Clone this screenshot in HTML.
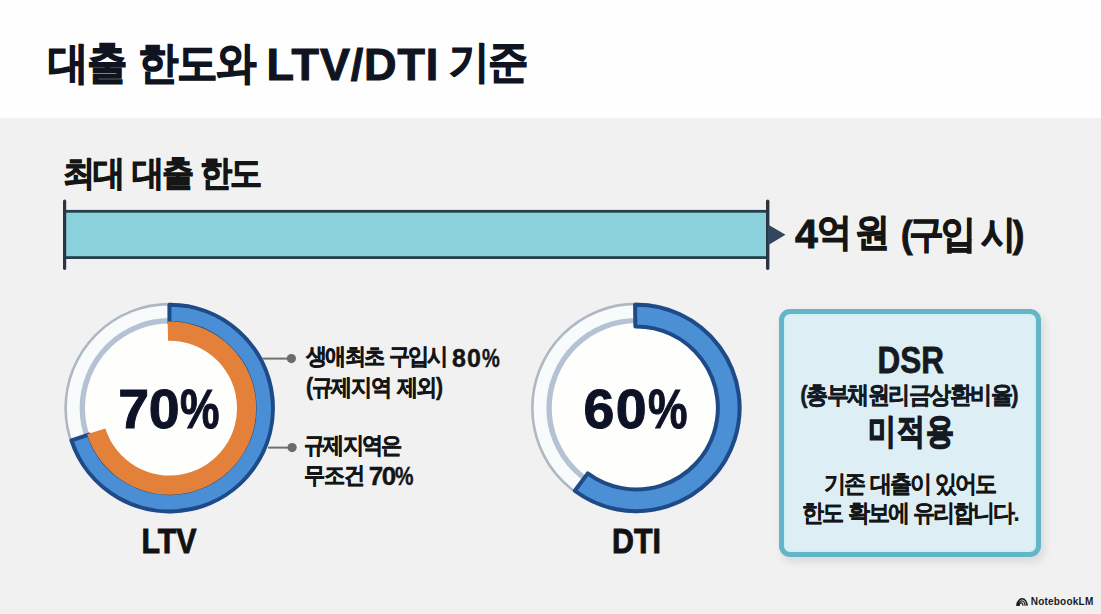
<!DOCTYPE html>
<html lang="ko"><head><meta charset="utf-8"><title>대출 한도와 LTV/DTI 기준</title>
<style>
*{margin:0;padding:0;box-sizing:border-box}
html,body{width:1101px;height:614px;overflow:hidden}
body{position:relative;background:#f1f1f1;font-family:"Liberation Sans",sans-serif;color:#151515}
.hdr{position:absolute;left:0;top:0;width:1101px;height:118px;background:#fefefe}
.t{position:absolute;white-space:nowrap;line-height:1;font-weight:bold}
.c{text-align:center}
.pc{display:inline-block;transform:scaleX(0.8);transform-origin:0 50%;margin-right:-0.18em}
.box{position:absolute;left:778.5px;top:309.4px;width:262.4px;height:247.4px;border:5.2px solid #63b5c7;border-radius:11px;background:#ddeef4;box-shadow:inset 0 0 0 1.5px #c8f2f7,3px 5px 10px rgba(0,0,0,0.10)}
</style></head><body>
<div class="hdr"></div>
<svg width="1101" height="614" viewBox="0 0 1101 614" style="position:absolute;left:0;top:0">
<rect x="64.6" y="211.3" width="703" height="46.3" fill="#8bd1dc" stroke="#24404e" stroke-width="2.8"/>
<line x1="64.6" y1="201.2" x2="64.6" y2="268.3" stroke="#2b3644" stroke-width="3.2" stroke-linecap="round"/>
<line x1="767.7" y1="201.2" x2="767.7" y2="268.3" stroke="#2b3644" stroke-width="3.4" stroke-linecap="round"/>
<path d="M768 224.4 L785.5 234.8 L768 245.2 Z" fill="#34465e"/>
<circle cx="169.6" cy="408.1" r="104.0" fill="#f8fbfc" stroke="#afb8c2" stroke-width="2.6"/>
<circle cx="169.6" cy="408.1" r="87.3" fill="#fefefd" stroke="#b5c2d3" stroke-width="5.4"/>
<path d="M169.42 304.80 A103.3 103.3 0 1 1 71.47 440.36 L88.85 434.65 A85.0 85.0 0 1 0 169.45 323.10 Z" fill="#4a8fd5" stroke="#1e4b88" stroke-width="4" stroke-linejoin="round"/>
<path d="M167.64 321.52 A86.6 86.6 0 1 1 87.05 434.29 L105.35 428.48 A67.4 67.4 0 1 0 168.07 340.72 Z" fill="#e3803a"/>
<circle cx="636.35" cy="407.9" r="104.0" fill="#f8fbfc" stroke="#afb8c2" stroke-width="2.6"/>
<circle cx="636.35" cy="407.9" r="87.3" fill="#fefefd" stroke="#b5c2d3" stroke-width="5.4"/>
<path d="M635.09 304.71 A103.2 103.2 0 1 1 574.82 490.75 L587.76 473.33 A81.5 81.5 0 1 0 635.35 326.41 Z" fill="#4b8fd5" stroke="#1e4b88" stroke-width="4" stroke-linejoin="round"/>
<line x1="262" y1="358.6" x2="291.4" y2="358.6" stroke="#707070" stroke-width="2"/>
<circle cx="291.4" cy="358.6" r="4.6" fill="#6b6b6b"/>
<line x1="268" y1="447.6" x2="292.1" y2="447.6" stroke="#707070" stroke-width="2"/>
<circle cx="292.1" cy="447.6" r="4.6" fill="#6b6b6b"/>
<g fill="none" stroke="#1a1a1a">
<path d="M1017.1 605.8 A5 7 0 0 1 1027.1 605.8" stroke-width="1.5"/>
<path d="M1018.3 605.8 A3.4 5 0 0 1 1025.1 605.8" stroke-width="1.3"/>
<path d="M1019.3 605.8 A1.85 3 0 0 1 1023 605.8" stroke-width="1.2"/>
</g>
<path d="M1016.4 605.9 L1016.8 602.5 L1018.6 600.8 L1019.2 605.9 Z" fill="#1a1a1a"/>
</svg>
<div class="box"></div>
<div class="t" id="t1" style="left:47.7px;top:40.6px;font-size:43.7px;letter-spacing:-1.48px;word-spacing:2px;-webkit-text-stroke:1.15px currentColor;transform:scaleX(0.92);transform-origin:0 0;color:#0f1420">대출 한도와</div>
<div class="t" id="t2" style="left:266.6px;top:42.2px;font-size:45px;letter-spacing:0.83px;-webkit-text-stroke:1px currentColor;color:#0f1420">LTV/DTI</div>
<div class="t" id="t3" style="left:449.2px;top:40.25px;font-size:43.7px;letter-spacing:-1.09px;word-spacing:2px;-webkit-text-stroke:1.15px currentColor;transform:scaleX(0.92);transform-origin:0 0;color:#0f1420">기준</div>
<div class="t" id="sub" style="left:63.2px;top:155.5px;font-size:34.8px;letter-spacing:-2.36px;word-spacing:2px;-webkit-text-stroke:0.95px currentColor;transform:scaleX(0.92);transform-origin:0 0;">최대 대출 한도</div>
<div class="t" id="a0" style="left:795px;top:214px;font-size:41px;-webkit-text-stroke:0.9px currentColor;">4</div>
<div class="t" id="a1" style="left:817.3px;top:212.75px;font-size:38.2px;letter-spacing:-4.4px;word-spacing:2px;-webkit-text-stroke:1px currentColor;transform:scaleX(0.92);transform-origin:0 0;">억 원</div>
<div class="t" id="a2" style="left:901.3px;top:216.4px;font-size:37.7px;letter-spacing:-3.52px;word-spacing:2px;-webkit-text-stroke:1px currentColor;transform:scaleX(0.92);transform-origin:0 0;">(구입 시)</div>
<div class="t" id="c1k" style="left:305.5px;top:346.15px;font-size:22.5px;letter-spacing:-2.07px;word-spacing:2px;-webkit-text-stroke:0.45px currentColor;transform:scaleX(0.92);transform-origin:0 0;">생애최초 구입시</div>
<div class="t" id="c1n" style="left:452px;top:345.75px;font-size:25px;letter-spacing:1px;-webkit-text-stroke:0.4px currentColor;">80<span class="pc">%</span></div>
<div class="t" id="c1b" style="left:305.7px;top:376.1px;font-size:23px;letter-spacing:-1.6px;word-spacing:2px;-webkit-text-stroke:0.46px currentColor;transform:scaleX(0.92);transform-origin:0 0;">(규제지역 제외)</div>
<div class="t" id="c2a" style="left:304.4px;top:434.25px;font-size:23.2px;letter-spacing:-2px;word-spacing:2px;-webkit-text-stroke:0.46px currentColor;transform:scaleX(0.92);transform-origin:0 0;">규제지역은</div>
<div class="t" id="c2k" style="left:304.4px;top:464.05px;font-size:23px;letter-spacing:-1.3px;word-spacing:2px;-webkit-text-stroke:0.46px currentColor;transform:scaleX(0.92);transform-origin:0 0;">무조건</div>
<div class="t" id="c2n" style="left:368.8px;top:463.25px;font-size:26px;letter-spacing:-1.5px;-webkit-text-stroke:0.4px currentColor;">70<span class="pc">%</span></div>
<div class="t" id="nlm" style="left:1030.7px;top:597.45px;font-size:10px;letter-spacing:0.22px;color:#1a1a1a">NotebookLM</div>
<div class="t c" id="p70" style="left:-1.05px;top:382.1px;font-size:55.5px;width:339px;letter-spacing:-0.2px;-webkit-text-stroke:1px currentColor;color:#0d1226">70<span class="pc">%</span></div>
<div class="t c" id="p60" style="left:465.57px;top:382.1px;font-size:55.5px;width:341px;letter-spacing:1.35px;-webkit-text-stroke:1px currentColor;color:#0d1226">60<span class="pc">%</span></div>
<div class="t c" id="ltv" style="left:-1.18px;top:523.75px;font-size:34.5px;width:340px;-webkit-text-stroke:0.9px currentColor;transform:scaleX(0.88);transform-origin:50% 0;color:#121212">LTV</div>
<div class="t c" id="dti" style="left:465.95px;top:523.8px;font-size:34.5px;width:341px;-webkit-text-stroke:0.9px currentColor;transform:scaleX(0.88);transform-origin:50% 0;color:#121212">DTI</div>
<div class="t c" id="dsr" style="left:778.75px;top:341.9px;font-size:37px;width:263.3px;-webkit-text-stroke:0.8px currentColor;transform:scaleX(0.85);transform-origin:50% 0;color:#151a22">DSR</div>
<div class="t c" id="dsr2" style="left:777.05px;top:382.5px;font-size:24px;width:263.3px;letter-spacing:-1.7px;word-spacing:2px;-webkit-text-stroke:0.48px currentColor;transform:scaleX(0.92);transform-origin:50% 0;color:#151a22">(총부채원리금상환비율)</div>
<div class="t c" id="dsr3" style="left:780px;top:412.5px;font-size:35px;width:263.3px;letter-spacing:1.5px;word-spacing:2px;-webkit-text-stroke:1.5px currentColor;transform:scaleX(0.8);transform-origin:50% 0;color:#151a22">미적용</div>
<div class="t c" id="dsr4" style="left:778.4px;top:471.95px;font-size:24px;width:263.3px;letter-spacing:-2.31px;word-spacing:2px;-webkit-text-stroke:0.15px currentColor;transform:scaleX(0.92);transform-origin:50% 0;">기존 대출이 있어도</div>
<div class="t c" id="dsr5" style="left:777.62px;top:501.35px;font-size:24px;width:263.3px;letter-spacing:-2.28px;word-spacing:2px;-webkit-text-stroke:0.15px currentColor;transform:scaleX(0.92);transform-origin:50% 0;">한도 확보에 유리합니다.</div>
</body></html>
